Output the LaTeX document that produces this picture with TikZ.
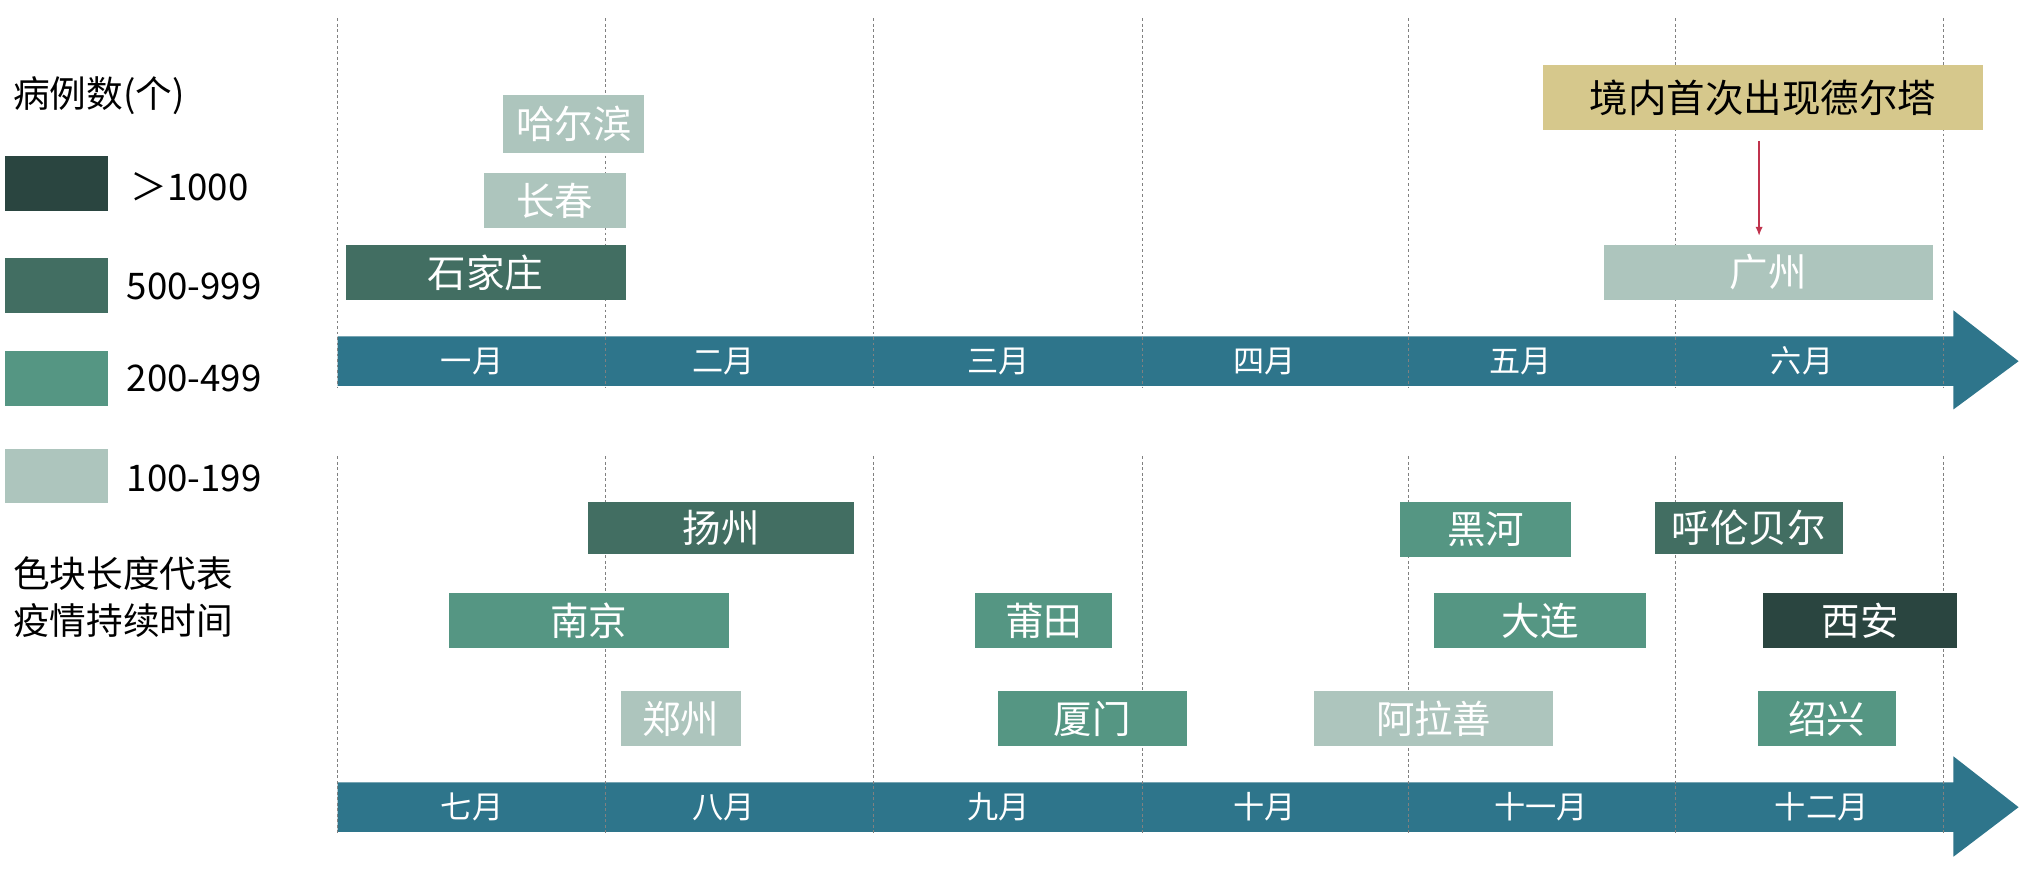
\documentclass[tikz,border=0pt]{standalone}
\usepackage{fontspec}
\setmainfont{Noto Sans CJK SC}
\usetikzlibrary{arrows.meta}
\begin{document}
\begin{tikzpicture}[x=0.05cm,y=-0.05cm,
 mon/.style={font=\fontsize{34}{38}\selectfont,text=white},
 leg/.style={anchor=west,font=\fontsize{40}{44}\selectfont,inner sep=0}]
\definecolor{cA}{HTML}{2A4540}\definecolor{cB}{HTML}{426E62}
\definecolor{cC}{HTML}{559683}\definecolor{cD}{HTML}{ADC5BD}
\definecolor{arr}{HTML}{2E758B}\definecolor{yel}{HTML}{D6C88C}\definecolor{rd}{HTML}{C0334D}
\useasboundingbox (0,0) rectangle (1556,667);
% arrows
\fill[arr] (259,258) -- (1498,258) -- (1498,238) -- (1548,277) -- (1498,314) -- (1498,296) -- (259,296) -- cycle;
\fill[arr] (259,600) -- (1498,600) -- (1498,580) -- (1548,619) -- (1498,657) -- (1498,638) -- (259,638) -- cycle;
\foreach \x in {259,464,670,876,1080,1285,1490}{
 \draw[gray,dashed,line width=0.8pt] (\x,14) -- (\x,297);
 \draw[gray,dashed,line width=0.8pt] (\x,350) -- (\x,640);}
\foreach \x/\t/\n in {362/一月/m1,555/二月/m2,766/三月/m3,970/四月/m4,1166/五月/m5,1382/六月/m6}
 \node[mon] (\n) at (\x,277) {\t};
\foreach \x/\t/\n in {362/七月/m7,555/八月/m8,766/九月/m9,970/十月/m10,1182/十一月/m11,1397/十二月/m12}
 \node[mon] (\n) at (\x,619) {\t};
% boxes
\newcommand\bx[6]{\fill[#6] (#1,#2) rectangle (#3,#4); \node[mon,font=\fontsize{42}{46}\selectfont] (#5) at ({(#1+#3)/2},{(#2+#4)/2}) {#5};}
\bx{386}{73}{494}{117}{哈尔滨}{cD}
\bx{371}{133}{480}{175}{长春}{cD}
\bx{265}{188}{480}{230}{石家庄}{cB}
\bx{1230}{188}{1482}{230}{广州}{cD}
\bx{451}{385}{655}{425}{扬州}{cB}
\bx{1074}{385}{1205}{427}{黑河}{cC}
\bx{1269}{385}{1413}{425}{呼伦贝尔}{cB}
\bx{344}{455}{559}{497}{南京}{cC}
\bx{748}{455}{853}{497}{莆田}{cC}
\bx{1100}{455}{1262}{497}{大连}{cC}
\bx{1352}{455}{1501}{497}{西安}{cA}
\bx{476}{530}{568}{572}{郑州}{cD}
\bx{765}{530}{910}{572}{厦门}{cC}
\bx{1008}{530}{1191}{572}{阿拉善}{cD}
\bx{1348}{530}{1454}{572}{绍兴}{cC}
\fill[yel] (1183,50) rectangle (1521,100);
\node[font=\fontsize{42}{46}\selectfont] (delta) at (1352,75) {境内首次出现德尔塔};
\draw[rd,line width=2.5pt,-{Latex[length=10pt,width=8pt]}] (1349,108) -- (1349,181);
% legend
\fill[cA] (4,120) rectangle (83,162);
\fill[cB] (4,198) rectangle (83,240);
\fill[cC] (4,269) rectangle (83,311);
\fill[cD] (4,344) rectangle (83,386);
\node[leg] (l0) at (10,73) {病例数(个)};
\node[leg] (l1) at (100,143) {＞1000};
\node[leg] (l2) at (97,220) {500-999};
\node[leg] (l3) at (97,290) {200-499};
\node[leg] (l4) at (97,367) {100-199};
\node[leg] (l5) at (10,440) {色块长度代表};
\node[leg] (l6) at (10,476) {疫情持续时间};
\end{tikzpicture}
\end{document}
